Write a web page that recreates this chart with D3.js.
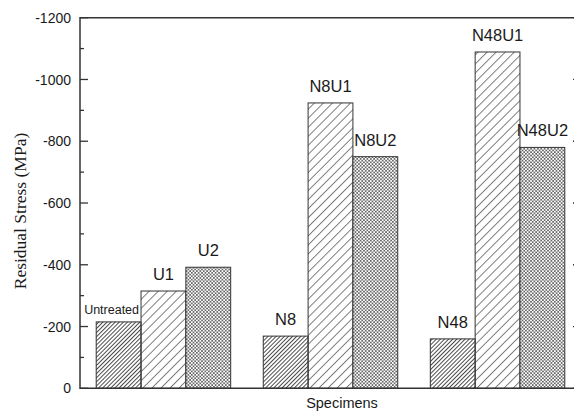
<!DOCTYPE html>
<html>
<head>
  <script src="https://d3js.org/d3.v7.min.js"></script>
  <style>
    body { margin: 0; background: #fff; }
    svg text { font-family: Arial, "Liberation Sans", sans-serif; fill: #1a1a1a; }
  </style>
</head>
<body>
  <script>
    // specimen groups and the three treatments inside each
    var groups = ["Untreated", "N8", "N48"];
    var treatments = ["base", "U1", "U2"];
    var barLabels = [
      ["Untreated", "U1", "U2"],
      ["N8", "N8U1", "N8U2"],
      ["N48", "N48U1", "N48U2"]
    ];
    var stress = [
      [-215, -315, -392],
      [-169, -924, -750],
      [-160, -1089, -780]
    ];
    var yTicks = [0, -200, -400, -600, -800, -1000, -1200];

    var width = 574, height = 414;
    var plotL = 80, plotR = 581, plotT = 17.7, plotB = 388.3;

    var svg = d3.select("body").append("svg")
      .attr("width", width)
      .attr("height", height);

    var defs = svg.append("defs");
    defs.append("pattern")
      .attr("id", "dense")
      .attr("patternUnits", "userSpaceOnUse")
      .attr("width", 2.9).attr("height", 10)
      .attr("patternTransform", "rotate(45)")
      .append("line")
      .attr("x1", 0.5).attr("y1", 0).attr("x2", 0.5).attr("y2", 10)
      .attr("stroke", "#333").attr("stroke-width", 0.9);
    defs.append("pattern")
      .attr("id", "sparse")
      .attr("patternUnits", "userSpaceOnUse")
      .attr("width", 6.4).attr("height", 10)
      .attr("patternTransform", "rotate(45)")
      .append("line")
      .attr("x1", 0.5).attr("y1", 0).attr("x2", 0.5).attr("y2", 10)
      .attr("stroke", "#555").attr("stroke-width", 0.8);
    var chk = defs.append("pattern")
      .attr("id", "check")
      .attr("patternUnits", "userSpaceOnUse")
      .attr("width", 3.4).attr("height", 3.4);
    chk.append("rect").attr("width", 3.4).attr("height", 3.4).attr("fill", "#6a6a6a");
    chk.append("rect").attr("width", 1.7).attr("height", 1.7).attr("fill", "#fff");
    chk.append("rect").attr("x", 1.7).attr("y", 1.7).attr("width", 1.7).attr("height", 1.7).attr("fill", "#fff");

    var fills = { base: "url(#dense)", U1: "url(#sparse)", U2: "url(#check)" };

    var x0 = d3.scaleBand()
      .domain(groups)
      .range([plotL, plotR])
      .paddingInner(0.195)
      .paddingOuter(0.097);
    var x1 = d3.scaleBand()
      .domain(treatments)
      .range([0, x0.bandwidth()]);
    var y = d3.scaleLinear()
      .domain([0, -1200])
      .range([plotB, plotT]);

    var rows = [];
    groups.forEach(function(g, i) {
      treatments.forEach(function(t, j) {
        rows.push({ group: g, treat: t, value: stress[i][j], label: barLabels[i][j] });
      });
    });

    var bar = svg.selectAll("g.bar")
      .data(rows)
      .enter()
      .append("g")
      .attr("class", "bar")
      .attr("transform", function(d) {
        return "translate(" + (x0(d.group) + x1(d.treat)) + ",0)";
      });

    bar.append("rect")
      .attr("y", function(d) { return y(d.value); })
      .attr("width", x1.bandwidth())
      .attr("height", function(d) { return y(0) - y(d.value); })
      .attr("fill", function(d) { return fills[d.treat]; })
      .attr("stroke", "#333")
      .attr("stroke-width", 1);

    // long label sits smaller, flush right; the rest centred over the bar
    bar.append("text")
      .attr("x", function(d) { return d.label.length > 6 ? x1.bandwidth() - 2 : x1.bandwidth() / 2; })
      .attr("y", function(d) { return y(d.value) - (d.label.length > 6 ? 8 : 11); })
      .attr("text-anchor", function(d) { return d.label.length > 6 ? "end" : "middle"; })
      .style("font-size", function(d) { return d.label.length > 6 ? "12.5px" : "16.5px"; })
      .text(function(d) { return d.label; });

    // frame: left axis, top line, bottom axis, right axis
    svg.append("path")
      .attr("d", "M" + plotR + "," + plotT + "H" + plotL + "V" + plotB + "H" + plotR + "V" + plotT)
      .attr("stroke", "#333").attr("stroke-width", 1.5).attr("fill", "none");

    var minor = d3.range(0, -1201, -100);
    svg.append("g").selectAll("line")
      .data(minor)
      .enter()
      .append("line")
      .attr("x1", plotL)
      .attr("x2", function(d) { return plotL + (d % 200 === 0 ? 8 : 4); })
      .attr("y1", function(d) { return y(d); })
      .attr("y2", function(d) { return y(d); })
      .attr("stroke", "#333").attr("stroke-width", 1.3);
    svg.append("g").selectAll("line")
      .data(minor)
      .enter()
      .append("line")
      .attr("x1", plotR)
      .attr("x2", function(d) { return plotR - (d % 200 === 0 ? 8 : 4); })
      .attr("y1", function(d) { return y(d); })
      .attr("y2", function(d) { return y(d); })
      .attr("stroke", "#333").attr("stroke-width", 1.3);

    svg.append("g").selectAll("text")
      .data(yTicks)
      .enter()
      .append("text")
      .attr("x", plotL - 9)
      .attr("y", function(d) { return y(d); })
      .attr("dy", "0.36em")
      .attr("text-anchor", "end")
      .style("font-size", "14px")
      .text(function(d) { return d; });

    svg.append("text")
      .attr("x", 342)
      .attr("y", 408)
      .attr("text-anchor", "middle")
      .style("font-size", "14.5px")
      .text("Specimens");

    svg.append("text")
      .attr("transform", "translate(26,211) rotate(-90)")
      .attr("text-anchor", "middle")
      .style("font-family", "'Liberation Serif', 'Times New Roman', serif")
      .style("font-size", "17.5px")
      .text("Residual Stress (MPa)");
  </script>
</body>
</html>
